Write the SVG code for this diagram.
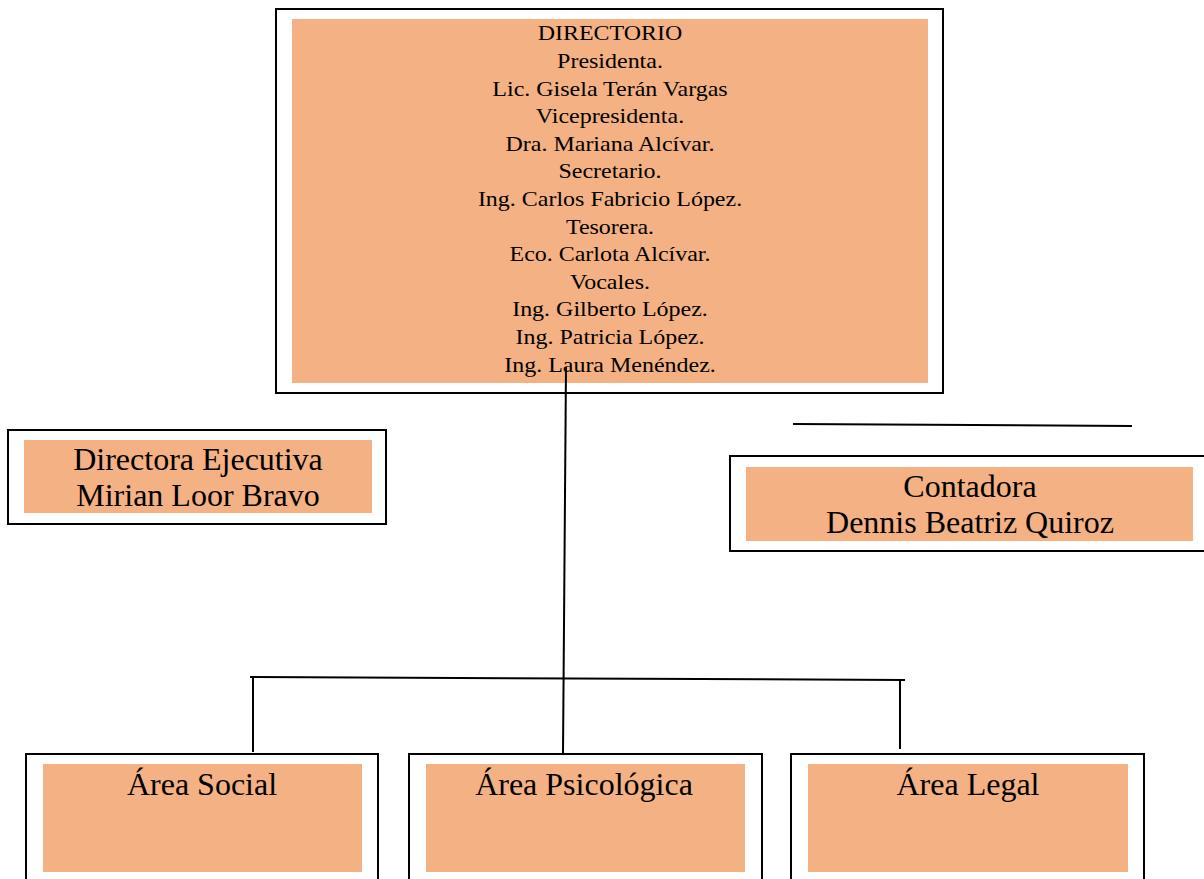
<svg xmlns="http://www.w3.org/2000/svg" width="1204" height="879" viewBox="0 0 1204 879">
<style>
.frame{fill:#ffffff;stroke:#000000;stroke-width:2}
.fill{fill:#F4B183}
.t{font-family:"Liberation Serif","Times New Roman",serif;fill:#000000;text-anchor:middle}
.s{font-size:22px}
.l{font-size:32px}
.c{stroke:#000000;stroke-width:2;fill:none}
</style>
<rect width="1204" height="879" fill="#ffffff"/>
<g id="directorio">
<rect class="frame" x="276" y="9" width="667" height="384"/>
<rect class="fill" x="292" y="19" width="636" height="364"/>
<g transform="translate(610 0) scale(1.09 1)">
<text class="t s" x="0" y="40.5">DIRECTORIO</text>
<text class="t s" x="0" y="68.1">Presidenta.</text>
<text class="t s" x="0" y="95.7">Lic. Gisela Terán Vargas</text>
<text class="t s" x="0" y="123.3">Vicepresidenta.</text>
<text class="t s" x="0" y="150.9">Dra. Mariana Alcívar.</text>
<text class="t s" x="0" y="178.5">Secretario.</text>
<text class="t s" x="0" y="206.1">Ing. Carlos Fabricio López.</text>
<text class="t s" x="0" y="233.7">Tesorera.</text>
<text class="t s" x="0" y="261.3">Eco. Carlota Alcívar.</text>
<text class="t s" x="0" y="288.9">Vocales.</text>
<text class="t s" x="0" y="316.5">Ing. Gilberto López.</text>
<text class="t s" x="0" y="344.1">Ing. Patricia López.</text>
<text class="t s" x="0" y="371.7">Ing. Laura Menéndez.</text>
</g>
</g>
<g id="directora">
<rect class="frame" x="8" y="430" width="378" height="94"/>
<rect class="fill" x="24" y="440" width="348" height="73"/>
<text class="t l" x="198" y="470">Directora Ejecutiva</text>
<text class="t l" x="198" y="506">Mirian Loor Bravo</text>
</g>
<g id="contadora">
<rect class="frame" x="730" y="456" width="480" height="95"/>
<rect class="fill" x="746" y="467" width="447" height="74"/>
<text class="t l" x="970" y="497">Contadora</text>
<text class="t l" x="970" y="533">Dennis Beatriz Quiroz</text>
</g>
<g id="area-social">
<rect class="frame" x="26" y="754" width="352" height="140"/>
<rect class="fill" x="43" y="764" width="319" height="108"/>
<text class="t l" x="202" y="795">Área Social</text>
</g>
<g id="area-psicologica">
<rect class="frame" x="409" y="754" width="353" height="140"/>
<rect class="fill" x="426" y="764" width="319" height="108"/>
<text class="t l" x="584" y="795">Área Psicológica</text>
</g>
<g id="area-legal">
<rect class="frame" x="791" y="754" width="353" height="140"/>
<rect class="fill" x="808" y="764" width="320" height="108"/>
<text class="t l" x="968" y="795">Área Legal</text>
</g>
<g id="connectors">
<line class="c" x1="566" y1="367" x2="563" y2="753"/>
<line class="c" x1="250" y1="677" x2="905" y2="680"/>
<line class="c" x1="253" y1="677" x2="253" y2="752"/>
<line class="c" x1="900" y1="680" x2="900" y2="749"/>
<line class="c" x1="793" y1="424" x2="1132" y2="426"/>
</g>
</svg>
